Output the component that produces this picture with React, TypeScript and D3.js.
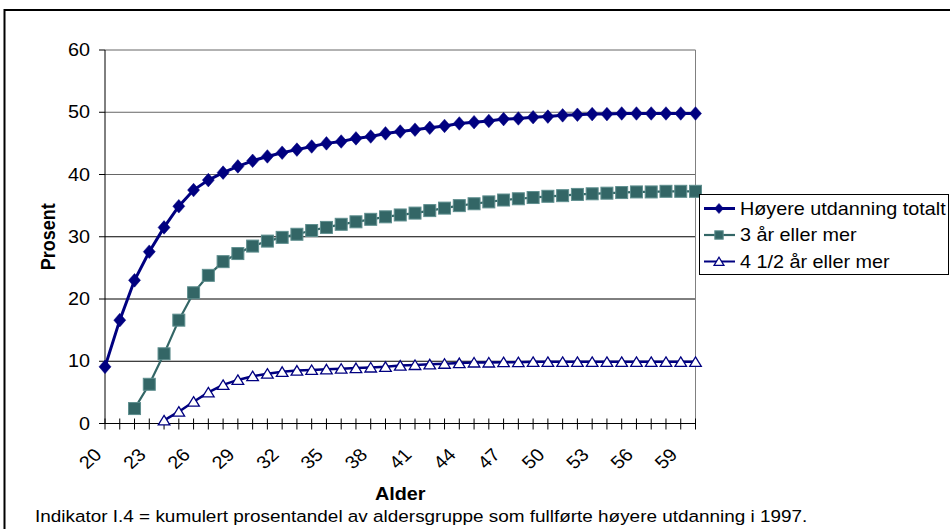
import React from "react";
import * as d3 from "d3";

// Age categories (x axis)
const ages = [
  20, 21, 22, 23, 24, 25, 26, 27, 28, 29, 30, 31, 32, 33, 34, 35, 36, 37, 38, 39, 40,
  41, 42, 43, 44, 45, 46, 47, 48, 49, 50, 51, 52, 53, 54, 55, 56, 57, 58, 59, 60,
];

// Labelled ages on the x axis
const tickAges = [20, 23, 26, 29, 32, 35, 38, 41, 44, 47, 50, 53, 56, 59];

// Y-axis ticks (percent)
const yTicks = [0, 10, 20, 30, 40, 50, 60];

// Cumulative share (%) with higher education, by age
const totalt = [
  9.1, 16.6, 23.0, 27.6, 31.5, 34.9, 37.5, 39.1, 40.3, 41.3, 42.2, 42.9, 43.5, 44.0, 44.5,
  45.0, 45.3, 45.8, 46.1, 46.6, 46.9, 47.2, 47.5, 47.8, 48.2, 48.4, 48.6, 48.9, 49.0, 49.2,
  49.3, 49.5, 49.6, 49.7, 49.7, 49.8, 49.8, 49.8, 49.8, 49.8, 49.8,
];

const treAar = [
  null, null, 2.4, 6.3, 11.2, 16.6, 21.0, 23.8, 26.0, 27.3, 28.5, 29.3, 29.9, 30.4, 31.0,
  31.5, 32.0, 32.4, 32.8, 33.2, 33.5, 33.8, 34.2, 34.6, 35.0, 35.3, 35.6, 35.9, 36.1, 36.3,
  36.5, 36.6, 36.8, 36.9, 37.0, 37.1, 37.2, 37.2, 37.3, 37.3, 37.3,
];

const fireOgHalvAar = [
  null, null, null, null, 0.5, 1.9, 3.5, 5.0, 6.2, 7.0, 7.6, 8.0, 8.3, 8.5, 8.6, 8.7, 8.8,
  8.9, 9.0, 9.1, 9.3, 9.4, 9.5, 9.6, 9.7, 9.8, 9.8, 9.85, 9.85, 9.9, 9.9, 9.9, 9.9, 9.9,
  9.9, 9.9, 9.9, 9.9, 9.9, 9.9, 9.9,
];

const seriesNames = ["Høyere utdanning totalt", "3 år eller mer", "4 1/2 år eller mer"];

const FONT = "'Liberation Sans', Arial, Helvetica, sans-serif";
const SX = 1.1; // horizontal text stretch

const NAVY = "#000080";
const TEAL = "#336666";

type Pt = { age: number; v: number | null };

function Diamond({ x, y, s = 1 }: { x: number; y: number; s?: number }) {
  return (
    <path
      d={`M${x},${y - 6.8 * s}L${x + 6 * s},${y}L${x},${y + 6.8 * s}L${x - 6 * s},${y}Z`}
      fill={NAVY}
      stroke={NAVY}
      strokeWidth={0.5}
    />
  );
}

function Square({ x, y, s = 1 }: { x: number; y: number; s?: number }) {
  const h = 6 * s;
  return (
    <rect x={x - h} y={y - h} width={2 * h} height={2 * h} fill={TEAL} stroke="#5f8f8f" strokeWidth={1} />
  );
}

function Triangle({ x, y, s = 1 }: { x: number; y: number; s?: number }) {
  return (
    <path
      d={`M${x},${y - 5 * s}L${x + 5.8 * s},${y + 4.5 * s}L${x - 5.8 * s},${y + 4.5 * s}Z`}
      fill="#ffffff"
      stroke={NAVY}
      strokeWidth={1.3}
    />
  );
}

export default function App() {
  const W = 950;
  const H = 529;
  const left = 105;
  const right = 695.5;
  const top = 50;
  const bottom = 423.5;

  const x = d3.scalePoint<number>().domain(ages).range([left, right]);
  const y = d3.scaleLinear().domain([0, 60]).range([bottom, top]);

  const toPts = (vals: (number | null)[]): Pt[] => ages.map((a, i) => ({ age: a, v: vals[i] }));

  const line = d3
    .line<Pt>()
    .defined((d) => d.v !== null)
    .x((d) => x(d.age) as number)
    .y((d) => y(d.v as number));

  const s1 = toPts(totalt);
  const s2 = toPts(treAar);
  const s3 = toPts(fireOgHalvAar);

  const legendX = 699.5;
  const legendY = 194.5;
  const rowYs = [208.5, 235, 261.5];

  return (
    <svg width={W} height={H} style={{ position: "absolute", left: 0, top: 0 }} fontFamily={FONT}>
      <rect x={0} y={0} width={W} height={H} fill="#ffffff" />
      {/* outer frame */}
      <rect x={4.5} y={10} width={960} height={540} fill="none" stroke="#000" strokeWidth={2} />

      {/* gridlines */}
      {yTicks.map((t) => (
        <line
          key={`g${t}`}
          x1={left}
          x2={right}
          y1={y(t)}
          y2={y(t)}
          stroke={t >= 40 ? "#666" : "#000"}
          strokeWidth={1}
        />
      ))}
      {/* plot area right border */}
      <line x1={right} x2={right} y1={top} y2={bottom} stroke="#808080" strokeWidth={1} />

      {/* y axis */}
      <line x1={left} x2={left} y1={top} y2={bottom} stroke="#000" strokeWidth={1} />
      {yTicks.map((t) => (
        <g key={`yt${t}`}>
          <line x1={left - 6} x2={left} y1={y(t)} y2={y(t)} stroke="#000" strokeWidth={1} />
          <text
            transform={`translate(${left - 15},${y(t)}) scale(${SX},1)`}
            textAnchor="end"
            dominantBaseline="central"
            fontSize={18}
            fill="#000"
          >
            {t}
          </text>
        </g>
      ))}

      {/* x axis */}
      <line x1={left} x2={right} y1={bottom} y2={bottom} stroke="#000" strokeWidth={1.2} />
      {ages.map((a) => (
        <line
          key={`xt${a}`}
          x1={x(a) as number}
          x2={x(a) as number}
          y1={bottom - 5}
          y2={bottom + 6}
          stroke="#000"
          strokeWidth={1}
        />
      ))}
      {tickAges.map((a) => (
        <text
          key={`xl${a}`}
          transform={`translate(${(x(a) as number) - 7},${bottom + 28}) scale(${SX},1) rotate(-45)`}
          textAnchor="end"
          dominantBaseline="central"
          fontSize={18}
          fill="#000"
        >
          {a}
        </text>
      ))}

      {/* axis titles */}
      <text
        transform={`translate(${48},${(top + bottom) / 2}) scale(${SX},1) rotate(-90)`}
        textAnchor="middle"
        dominantBaseline="central"
        fontSize={18}
        fontWeight="bold"
        fill="#000"
      >
        Prosent
      </text>
      <text
        transform={`translate(${(left + right) / 2},${500}) scale(${SX},1)`}
        textAnchor="middle"
        fontSize={18}
        fontWeight="bold"
        fill="#000"
      >
        Alder
      </text>

      {/* series lines */}
      <path d={line(s3) ?? ""} fill="none" stroke={NAVY} strokeWidth={2.5} />
      <path d={line(s2) ?? ""} fill="none" stroke={TEAL} strokeWidth={2.2} />
      <path d={line(s1) ?? ""} fill="none" stroke={NAVY} strokeWidth={3} />

      {/* markers */}
      {s3
        .filter((d) => d.v !== null)
        .map((d) => (
          <Triangle key={`m3${d.age}`} x={x(d.age) as number} y={y(d.v as number)} />
        ))}
      {s2
        .filter((d) => d.v !== null)
        .map((d) => (
          <Square key={`m2${d.age}`} x={x(d.age) as number} y={y(d.v as number)} />
        ))}
      {s1
        .filter((d) => d.v !== null)
        .map((d) => (
          <Diamond key={`m1${d.age}`} x={x(d.age) as number} y={y(d.v as number)} />
        ))}

      {/* legend */}
      <rect x={legendX} y={legendY} width={249} height={80} fill="#ffffff" stroke="#000" strokeWidth={1} />
      {seriesNames.map((name, i) => {
        const ry = rowYs[i];
        const color = i === 1 ? TEAL : NAVY;
        const sw = i === 0 ? 3 : i === 1 ? 2.2 : 2;
        return (
          <g key={`lg${i}`}>
            <line x1={704} x2={735} y1={ry} y2={ry} stroke={color} strokeWidth={sw} />
            {i === 0 && <Diamond x={719} y={ry} s={0.75} />}
            {i === 1 && <Square x={719} y={ry} s={0.7} />}
            {i === 2 && <Triangle x={719} y={ry} s={0.85} />}
            <text
              transform={`translate(740,${ry}) scale(${SX},1)`}
              dominantBaseline="central"
              fontSize={18}
              fill="#000"
            >
              {name}
            </text>
          </g>
        );
      })}

      {/* footnote */}
      <text transform={`translate(35,522) scale(${SX},1)`} fontSize={17.2} fill="#000">
        Indikator I.4 = kumulert prosentandel av aldersgruppe som fullførte høyere utdanning i 1997.
      </text>
    </svg>
  );
}
